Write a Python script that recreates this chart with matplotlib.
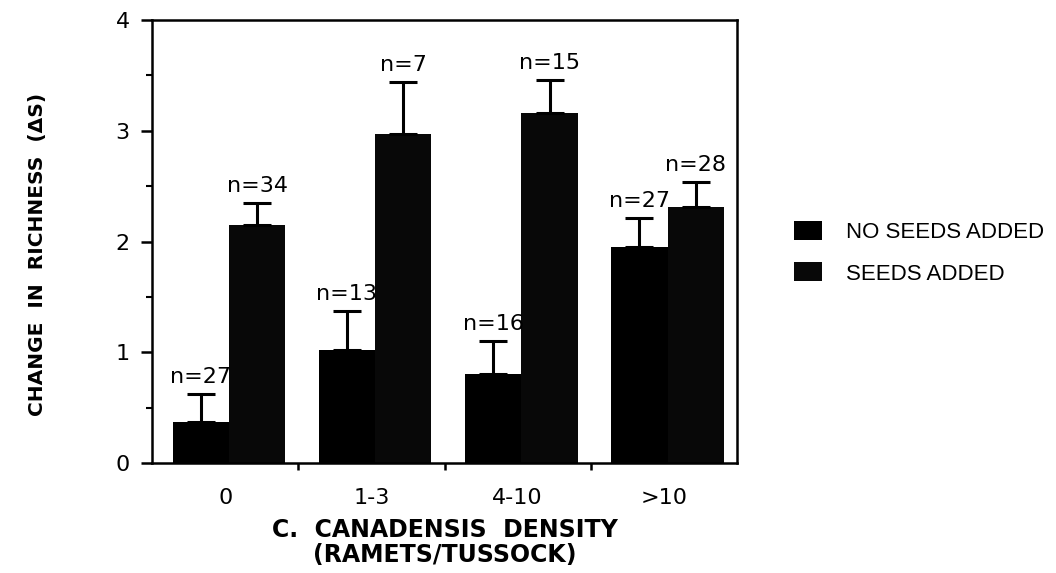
import matplotlib
matplotlib.use("Agg")
import matplotlib.pyplot as plt
import numpy as np

# Data
categories = ["0", "1-3", "4-10", ">10"]
no_seeds = [0.37, 1.02, 0.80, 1.95]
no_seeds_err = [0.25, 0.35, 0.30, 0.26]
seeds = [2.15, 2.97, 3.16, 2.31]
seeds_err = [0.20, 0.47, 0.30, 0.23]
n_no_seeds = ["n=27", "n=13", "n=16", "n=27"]
n_seeds = ["n=34", "n=7", "n=15", "n=28"]
series_labels = ["NO SEEDS ADDED", "SEEDS ADDED"]

plt.rcParams['hatch.color'] = '#333333'
plt.rcParams['hatch.linewidth'] = 0.6

fig = plt.figure(figsize=(10.56, 5.73), dpi=100)
ax = fig.add_axes([0.144, 0.192, 0.554, 0.773])

idx = np.arange(len(categories))
w = 0.385
x_no = idx + 0.14 + w / 2
x_se = idx + 0.525 + w / 2

b1 = ax.bar(x_no, no_seeds, width=w, color='black', edgecolor='black', linewidth=0,
            label=series_labels[0], zorder=2)
b2 = ax.bar(x_se, seeds, width=w, color='#080808', edgecolor='#080808', linewidth=0,
            hatch='//////', label=series_labels[1], zorder=2)

for xs, vals, errs in [(x_no, no_seeds, no_seeds_err), (x_se, seeds, seeds_err)]:
    ax.errorbar(xs, vals, yerr=[np.zeros(len(vals)), errs], fmt='none', ecolor='black',
                elinewidth=2.2, capsize=10, capthick=2.2, zorder=3)

for xs, vals, errs, labs in [(x_no, no_seeds, no_seeds_err, n_no_seeds),
                             (x_se, seeds, seeds_err, n_seeds)]:
    for xi, v, e, t in zip(xs, vals, errs, labs):
        ax.annotate(t, (xi, v + e), xytext=(0, 5), textcoords='offset points',
                    ha='center', va='bottom', fontsize=16, family='DejaVu Sans')

ax.set_xlim(0, 4)
ax.set_ylim(0, 4)
ax.set_yticks([0, 1, 2, 3, 4])
ax.set_yticks([0.5, 1.5, 2.5, 3.5], minor=True)
ax.set_xticks([1, 2, 3])
ax.set_xticklabels([])
ax.set_xticks(idx + 0.5, minor=True)
ax.set_xticklabels(categories, minor=True, fontsize=16, family='DejaVu Sans')
ax.tick_params(axis='x', which='major', direction='out', length=5, width=1.8)
ax.tick_params(axis='x', which='minor', length=0, pad=18)
ax.tick_params(axis='y', which='major', direction='out', length=8, width=1.8,
               labelsize=16, pad=8)
ax.tick_params(axis='y', which='minor', direction='out', length=4, width=1.5)
for lab in ax.get_yticklabels():
    lab.set_family('DejaVu Sans')

for s in ax.spines.values():
    s.set_linewidth(1.8)

ax.set_xlabel("C.  CANADENSIS  DENSITY\n(RAMETS/TUSSOCK)", fontsize=17,
              fontweight='bold', family='DejaVu Sans', linespacing=1.05)
ax.set_ylabel("CHANGE  IN  RICHNESS  (ΔS)", fontsize=14.5, fontweight='bold',
              family='DejaVu Sans')
ax.yaxis.set_label_coords(-0.18, 0.47)
ax.xaxis.set_label_coords(0.5, -0.125)
ax.xaxis.label.set_va('top')

leg = ax.legend(handles=[b1, b2], loc='upper left', bbox_to_anchor=(0.752, 0.614),
                bbox_transform=fig.transFigure, frameon=False, fontsize=16,
                handlelength=1.25, handleheight=0.95, handletextpad=1.1,
                labelspacing=0.85, borderpad=0, borderaxespad=0)
for t in leg.get_texts():
    t.set_family('Liberation Sans')

fig.savefig("out.png", dpi=100)
